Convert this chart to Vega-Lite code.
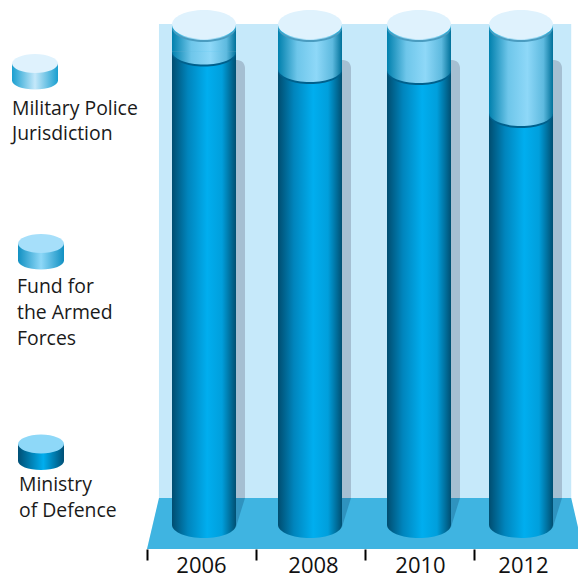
{
"$schema":"https://vega.github.io/schema/vega-lite/v6.json",
"width":578,"height":575,"padding":0,"autosize":{"type":"none"},
"background":"white",
"config":{"view":{"stroke":null},"font":"Open Sans"},
"title":{"text":"Composition of Defence budget","font":"Open Sans","fontSize":20,"fontWeight":"bold","color":"#000000","anchor":"middle","frame":"group","offset":0,"dx":71,"dy":1.5,"baseline":"alphabetic"},
"datasets":{
 "budget":[
  {"year":2006,"series":"Ministry of Defence","order":1,"value":94.6},
  {"year":2006,"series":"Fund for the Armed Forces","order":2,"value":4.8},
  {"year":2006,"series":"Military Police Jurisdiction","order":3,"value":0.6},
  {"year":2008,"series":"Ministry of Defence","order":1,"value":91.1},
  {"year":2008,"series":"Fund for the Armed Forces","order":2,"value":8.3},
  {"year":2008,"series":"Military Police Jurisdiction","order":3,"value":0.6},
  {"year":2010,"series":"Ministry of Defence","order":1,"value":90.9},
  {"year":2010,"series":"Fund for the Armed Forces","order":2,"value":8.5},
  {"year":2010,"series":"Military Police Jurisdiction","order":3,"value":0.6},
  {"year":2012,"series":"Ministry of Defence","order":1,"value":82.3},
  {"year":2012,"series":"Fund for the Armed Forces","order":2,"value":17.1},
  {"year":2012,"series":"Military Police Jurisdiction","order":3,"value":0.6}
 ],
 "keys":[
  {"rank":1,"series":"Military Police Jurisdiction","label":"Military Police\nJurisdiction"},
  {"rank":2,"series":"Fund for the Armed Forces","label":"Fund for\nthe Armed\nForces"},
  {"rank":3,"series":"Ministry of Defence","label":"Ministry\nof Defence"}
 ],
 "floor":[{"year":2005,"level":-4.8},{"year":2005.21,"level":5.4},{"year":2012.81,"level":5.4},{"year":2013,"level":-4.8}],
 "shadows":[{"year":2006,"level":92.9},{"year":2008,"level":92.9},{"year":2010,"level":92.9},{"year":2012,"level":92.9}]
},
"resolve":{"scale":{"x":"independent","y":"independent","fill":"independent"}},
"layer":[
 {
  "resolve":{"axis":{"x":"independent"}},
  "layer":[
   {"data":{"values":[{"part":"wall"}]},
    "mark":{"type":"rect","fill":"#c6e9fa"},
    "encoding":{
     "x":{"datum":2005.21,"type":"quantitative","title":null,
      "scale":{"domain":[2005,2006,2007,2008,2009,2010,2011,2012,2013],"range":[147,204,256,310,365,419,474,521,583],"padding":0},
      "axis":{"orient":"bottom","values":[2005,2007,2009,2011],"labels":false,"domain":false,"grid":false,"tickSize":11,"tickWidth":2,"tickColor":"#000000","offset":-26,"title":null}},
     "x2":{"datum":2012.81},
     "y":{"datum":5.4,"type":"quantitative","axis":null,"scale":{"domain":[0,100],"range":[525,24.5]}},
     "y2":{"datum":100.1}}},
   {"data":{"name":"floor"},
    "mark":{"type":"area","fill":"#3fb4e1","opacity":1},
    "encoding":{
     "x":{"field":"year","type":"quantitative","title":null,
      "axis":{"orient":"bottom","values":[2006,2008,2010,2012],"format":"d","ticks":false,"domain":false,"grid":false,"labelFont":"Open Sans","labelFontSize":22,"labelColor":"#111111","labelPadding":6,"labelFlush":false,"labelOverlap":false,"offset":-26,"title":null,
       "labelOffset":{"condition":[{"test":"datum.value===2006","value":-3},{"test":"datum.value===2008","value":3},{"test":"datum.value===2010","value":1}],"value":2}}},
     "y":{"field":"level","type":"quantitative","axis":null},
     "y2":{"datum":-4.8}}},
   {"data":{"name":"shadows"},
    "mark":{"type":"bar","width":64,"xOffset":9,"fill":"#a5bfd2","cornerRadiusTopRight":8},
    "encoding":{
     "x":{"field":"year","type":"quantitative","axis":null},
     "y":{"field":"level","type":"quantitative","axis":null},
     "y2":{"datum":5.4}}},
   {"data":{"name":"shadows"},
    "mark":{"type":"point","filled":true,"opacity":1,"size":4,"fill":"#2f93bf","shape":"M32,0 L41,0 L32,29 Z"},
    "encoding":{
     "x":{"field":"year","type":"quantitative","axis":null},
     "y":{"datum":5.4,"type":"quantitative","axis":null}}},
   {"data":{"name":"budget"},
    "transform":[{"stack":"value","groupby":["year"],"sort":[{"field":"order","order":"ascending"}],"as":["v0","v1"]}],
    "layer":[
     {"transform":[{"filter":"datum.order===1"}],
      "mark":{"type":"point","filled":true,"opacity":1,"size":4,"shape":"M-32,0 C-32,7 -17.7,13 0,13 C17.7,13 32,7 32,0 Z",
       "fill":{"gradient":"linear","x1":0,"x2":1,"y1":0,"y2":0,"stops":[{"offset":0,"color":"#004d70"},{"offset":0.25,"color":"#0085bd"},{"offset":0.55,"color":"#00aeef"},{"offset":0.78,"color":"#009fdc"},{"offset":1,"color":"#004f72"}]}},
      "encoding":{"x":{"field":"year","type":"quantitative","axis":null},"y":{"field":"v0","type":"quantitative","axis":null}}},
     {"transform":[{"filter":"datum.order===1"}],
      "mark":{"type":"bar","width":64,
       "fill":{"gradient":"linear","x1":0,"x2":1,"y1":0,"y2":0,"stops":[{"offset":0,"color":"#004d70"},{"offset":0.25,"color":"#0085bd"},{"offset":0.55,"color":"#00aeef"},{"offset":0.78,"color":"#009fdc"},{"offset":1,"color":"#004f72"}]}},
      "encoding":{"x":{"field":"year","type":"quantitative","axis":null},"y":{"field":"v0","type":"quantitative","axis":null},"y2":{"field":"v1"}}},
     {"transform":[{"filter":"datum.order===2"}],
      "mark":{"type":"point","filled":true,"opacity":1,"size":4,"yOffset":2,"fill":"#00608c","shape":"M-32,0 C-32,7 -17.7,13 0,13 C17.7,13 32,7 32,0 Z"},
      "encoding":{"x":{"field":"year","type":"quantitative","axis":null},"y":{"field":"v0","type":"quantitative","axis":null}}},
     {"transform":[{"filter":"datum.order===2"}],
      "mark":{"type":"point","filled":true,"opacity":1,"size":4,"shape":"M-32,0 C-32,7 -17.7,13 0,13 C17.7,13 32,7 32,0 Z",
       "fill":{"gradient":"linear","x1":0,"x2":1,"y1":0,"y2":0,"stops":[{"offset":0,"color":"#0080ad"},{"offset":0.3,"color":"#6ec6ea"},{"offset":0.6,"color":"#8ed8f8"},{"offset":0.85,"color":"#5ebadf"},{"offset":1,"color":"#00719a"}]}},
      "encoding":{"x":{"field":"year","type":"quantitative","axis":null},"y":{"field":"v0","type":"quantitative","axis":null}}},
     {"transform":[{"filter":"datum.order===2"}],
      "mark":{"type":"bar","width":64,
       "fill":{"gradient":"linear","x1":0,"x2":1,"y1":0,"y2":0,"stops":[{"offset":0,"color":"#0080ad"},{"offset":0.3,"color":"#6ec6ea"},{"offset":0.6,"color":"#8ed8f8"},{"offset":0.85,"color":"#5ebadf"},{"offset":1,"color":"#00719a"}]}},
      "encoding":{"x":{"field":"year","type":"quantitative","axis":null},"y":{"field":"v0","type":"quantitative","axis":null},"y2":{"field":"v1"}}},
     {"transform":[{"filter":"datum.order===3"}],
      "mark":{"type":"point","filled":true,"opacity":1,"size":4,"fill":"#4a9cc0","shape":"M-32,0 C-32,8 -17.7,14.5 0,14.5 C17.7,14.5 32,8 32,0 Z"},
      "encoding":{"x":{"field":"year","type":"quantitative","axis":null},"y":{"field":"v0","type":"quantitative","axis":null}}},
     {"transform":[{"filter":"datum.order===3"}],
      "mark":{"type":"point","filled":true,"opacity":1,"size":4,"shape":"M-32,0 L32,0 L32,1 C32,9 17.7,15.5 0,15.5 C-17.7,15.5 -32,9 -32,1 Z",
       "fill":{"gradient":"linear","x1":0,"x2":1,"y1":0,"y2":0,"stops":[{"offset":0,"color":"#00a3d4"},{"offset":0.25,"color":"#8fd4f0"},{"offset":0.5,"color":"#c6e9fa"},{"offset":0.75,"color":"#8fd4f0"},{"offset":1,"color":"#00a3d4"}]}},
      "encoding":{"x":{"field":"year","type":"quantitative","axis":null},"y":{"field":"v1","type":"quantitative","axis":null}}},
     {"transform":[{"filter":"datum.order===3"}],
      "mark":{"type":"point","filled":true,"opacity":1,"size":4,"fill":"#dff2fd","shape":"M-32,0 C-32,-8 -17.7,-14.5 0,-14.5 C17.7,-14.5 32,-8 32,0 C32,8 17.7,14.5 0,14.5 C-17.7,14.5 -32,8 -32,0 Z"},
      "encoding":{"x":{"field":"year","type":"quantitative","axis":null},"y":{"field":"v1","type":"quantitative","axis":null}}}
    ]}
  ]
 },
 {
  "data":{"name":"keys"},
  "layer":[
   {"transform":[{"filter":"datum.rank===1"}],
    "mark":{"type":"point","filled":true,"opacity":1,"size":4,"shape":"M-23,0 L-23,17 C-23,22 -12.7,26 0,26 C12.7,26 23,22 23,17 L23,0 Z",
     "fill":{"gradient":"linear","x1":0,"x2":1,"y1":0,"y2":0,"stops":[{"offset":0,"color":"#1a9fd0"},{"offset":0.5,"color":"#c4e8fa"},{"offset":1,"color":"#1a9fd0"}]}},
    "encoding":{
     "x":{"field":"rank","type":"quantitative","axis":null,"scale":{"domain":[1,2,3],"range":[35,41,41]}},
     "y":{"field":"rank","type":"quantitative","axis":null,"scale":{"domain":[1,2,3],"range":[63.5,243.5,444]}}}},
   {"transform":[{"filter":"datum.rank===2"}],
    "mark":{"type":"point","filled":true,"opacity":1,"size":4,"shape":"M-23,0 L-23,17 C-23,22 -12.7,26 0,26 C12.7,26 23,22 23,17 L23,0 Z",
     "fill":{"gradient":"linear","x1":0,"x2":1,"y1":0,"y2":0,"stops":[{"offset":0,"color":"#1190c2"},{"offset":0.5,"color":"#8ed8f8"},{"offset":1,"color":"#1190c2"}]}},
    "encoding":{"x":{"field":"rank","type":"quantitative","axis":null},"y":{"field":"rank","type":"quantitative","axis":null}}},
   {"transform":[{"filter":"datum.rank===3"}],
    "mark":{"type":"point","filled":true,"opacity":1,"size":4,"shape":"M-23,0 L-23,17 C-23,22 -12.7,26 0,26 C12.7,26 23,22 23,17 L23,0 Z",
     "fill":{"gradient":"linear","x1":0,"x2":1,"y1":0,"y2":0,"stops":[{"offset":0,"color":"#004f75"},{"offset":0.55,"color":"#00aeef"},{"offset":1,"color":"#004f75"}]}},
    "encoding":{"x":{"field":"rank","type":"quantitative","axis":null},"y":{"field":"rank","type":"quantitative","axis":null}}},
   {"mark":{"type":"point","filled":true,"opacity":1,"size":4,"shape":"M-23,0 C-23,-5 -12.7,-9.5 0,-9.5 C12.7,-9.5 23,-5 23,0 C23,5 12.7,9.5 0,9.5 C-12.7,9.5 -23,5 -23,0 Z"},
    "encoding":{
     "x":{"field":"rank","type":"quantitative","axis":null},
     "y":{"field":"rank","type":"quantitative","axis":null},
     "fill":{"field":"series","type":"nominal","legend":null,"scale":{"domain":["Military Police Jurisdiction","Fund for the Armed Forces","Ministry of Defence"],"range":["#dff2fd","#a6dffa","#8ed8f8"]}}}},
   {"transform":[{"filter":"datum.rank===1"}],
    "mark":{"type":"text","align":"left","baseline":"alphabetic","lineBreak":"\n","lineHeight":25.5,"font":"Open Sans","fontSize":19.4,"color":"#1a1a1a","xOffset":-23,"yOffset":51},
    "encoding":{
     "x":{"field":"rank","type":"quantitative","axis":null},
     "y":{"field":"rank","type":"quantitative","axis":null},
     "text":{"field":"label","type":"nominal"}}},
   {"transform":[{"filter":"datum.rank===2"}],
    "mark":{"type":"text","align":"left","baseline":"alphabetic","lineBreak":"\n","lineHeight":26,"font":"Open Sans","fontSize":19.4,"color":"#1a1a1a","xOffset":-24,"yOffset":49},
    "encoding":{
     "x":{"field":"rank","type":"quantitative","axis":null},
     "y":{"field":"rank","type":"quantitative","axis":null},
     "text":{"field":"label","type":"nominal"}}},
   {"transform":[{"filter":"datum.rank===3"}],
    "mark":{"type":"text","align":"left","baseline":"alphabetic","lineBreak":"\n","lineHeight":25.5,"font":"Open Sans","fontSize":19.4,"color":"#1a1a1a","xOffset":-22,"yOffset":47},
    "encoding":{
     "x":{"field":"rank","type":"quantitative","axis":null},
     "y":{"field":"rank","type":"quantitative","axis":null},
     "text":{"field":"label","type":"nominal"}}}
  ]
 }
]
}
